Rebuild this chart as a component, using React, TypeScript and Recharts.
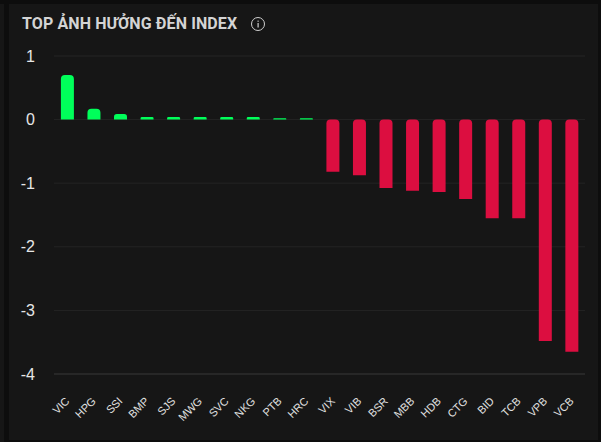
import React from 'react';
import { BarChart, Bar, XAxis, YAxis, CartesianGrid, ReferenceLine } from 'recharts';

const categories = ['VIC', 'HPG', 'SSI', 'BMP', 'SJS', 'MWG', 'SVC', 'NKG', 'PTB', 'HRC', 'VIX', 'VIB', 'BSR', 'MBB', 'HDB', 'CTG', 'BID', 'TCB', 'VPB', 'VCB'];
const values = [0.7, 0.17, 0.09, 0.04, 0.04, 0.04, 0.04, 0.04, 0.02, 0.02, -0.82, -0.875, -1.075, -1.12, -1.14, -1.25, -1.55, -1.55, -3.48, -3.65];
const yTicks = [1, 0, -1, -2, -3, -4];

const data = categories.map((name, i) => ({
  name,
  up: values[i] > 0 ? values[i] : null,
  down: values[i] < 0 ? values[i] : null,
}));

const AngledTick = ({ x, y, payload }: any) => (
  <text
    x={x}
    y={y}
    transform={`rotate(-45 ${x} ${y})`}
    textAnchor="end"
    dominantBaseline="central"
    fill="#e0e0e0"
    fontSize={11}
    fontFamily="'Liberation Sans', Arial, sans-serif"
  >
    {payload.value}
  </text>
);

const App = () => (
  <div style={{ position: 'fixed', inset: 0, width: 601, height: 442, background: '#0d0d0d', overflow: 'hidden' }}>
    <div style={{ position: 'absolute', left: 0, top: 4, width: 4, height: 438, background: '#161616' }} />
    <div style={{ position: 'absolute', left: 9, top: 4, width: 589, height: 436, background: '#161616' }} />
    <div
      style={{
        position: 'absolute',
        left: 22,
        top: 14,
        color: '#d4d4d4',
        fontFamily: 'Roboto, sans-serif',
        fontWeight: 700,
        fontSize: 16,
        letterSpacing: 0.1,
        lineHeight: '20px',
        whiteSpace: 'nowrap',
      }}
    >
      TOP ẢNH HƯỞNG ĐẾN INDEX
    </div>
    <svg style={{ position: 'absolute', left: 250, top: 16 }} width={16} height={16} viewBox="0 0 16 16">
      <circle cx={8} cy={8} r={6.5} fill="none" stroke="#cfcfcf" strokeWidth={1} />
      <rect x={7.5} y={7} width={1.2} height={4.5} fill="#cfcfcf" />
      <rect x={7.5} y={4.6} width={1.2} height={1.2} fill="#cfcfcf" />
    </svg>
    <div style={{ position: 'absolute', left: 0, top: 0 }}>
      <BarChart
        width={601}
        height={442}
        data={data}
        stackOffset="sign"
        barCategoryGap="26%"
        margin={{ top: 56, right: 16, bottom: 0, left: 0 }}
      >
        <CartesianGrid vertical={false} stroke="#242424" strokeWidth={1} />
        <ReferenceLine y={-4} stroke="#333333" strokeWidth={1} />
        <XAxis
          dataKey="name"
          interval={0}
          axisLine={false}
          tickLine={false}
          tick={<AngledTick />}
          tickMargin={19}
          height={68}
        />
        <YAxis
          domain={[-4, 1]}
          ticks={yTicks}
          interval={0}
          width={54}
          axisLine={false}
          tickLine={false}
          tickMargin={13}
          tick={{ fill: '#e6e6e6', fontSize: 16, fontFamily: "'Liberation Sans', Arial, sans-serif" }}
        />
        <Bar dataKey="up" stackId="a" fill="#00ff5a" radius={[4, 4, 0, 0]} isAnimationActive={false} />
        <Bar dataKey="down" stackId="a" fill="#dc0e40" radius={[0, 0, 4, 4]} isAnimationActive={false} />
      </BarChart>
    </div>
  </div>
);

export default App;
